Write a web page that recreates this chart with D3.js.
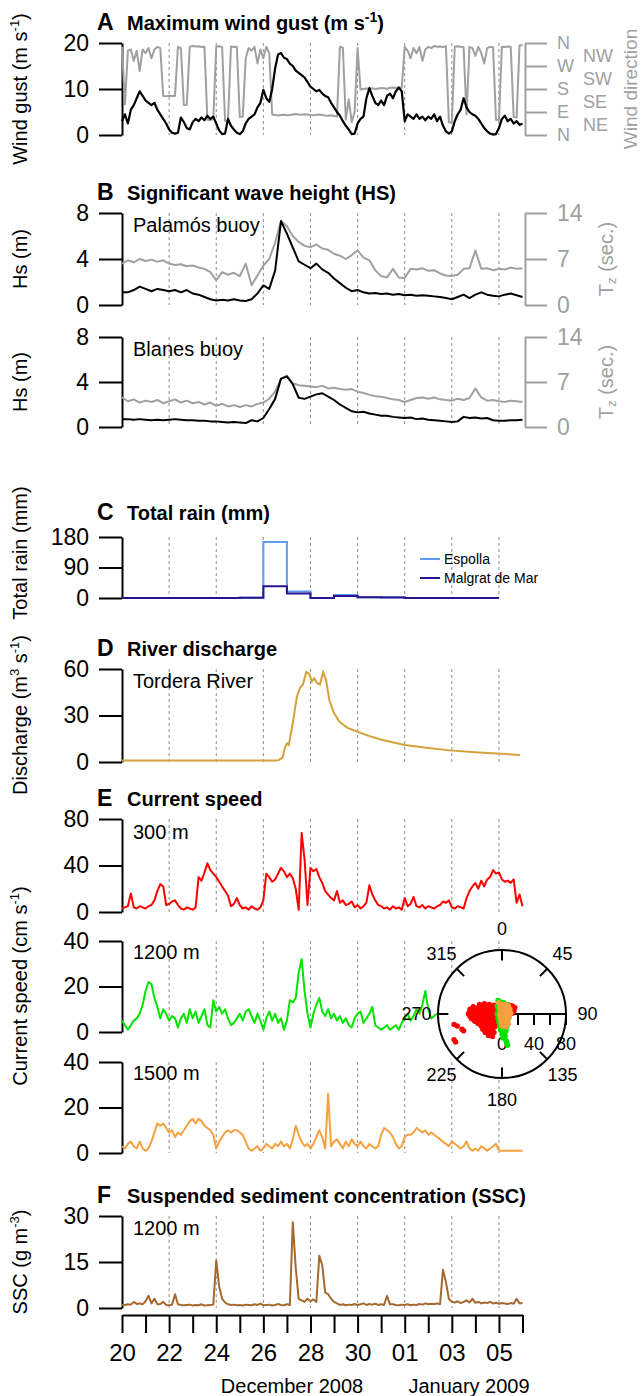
<!DOCTYPE html>
<html>
<head>
<meta charset="utf-8">
<title>Storm of December 2008 - wind, waves, rain, discharge, currents and SSC</title>
<script src="https://d3js.org/d3.v7.min.js"></script>
<style>
  body { margin: 0; background: white; }
  svg { display: block; }
</style>
</head>
<body>
<svg width="642" height="1396"></svg>
<script>
// ---- data ----
// 3-hourly series start 20 Dec 2008 00:00, 6-hourly series likewise
const gust = [3,4.5,2.5,5.5,6.5,8,9.5,8.5, 7.5,7,6.5,7,5.5,4.5,3.5,2.5, 1.2,0.5,0.3,0.5,3.8,2.8,1.5,1.2,
  2.8,3.5,3,3.8,3.2,4.2,3.5,4, 2.5,1,0.2,0.3,3.5,2,1.2,0.5, 0.2,0.8,2.5,3.5,4,4.5,6,7,
  9.8,8,7.2,10,14.5,17.5,17.8,16.8, 16.5,15.5,15,14,13.5,13,12.5,11.5, 10.5,10,9.5,9.8,9,8.5,8.2,7,
  6,5,4.2,3,2,1.2,0.2,0.3, 2.5,3.5,4,8,10.2,8.5,7,6.5, 7.5,6.5,8.5,9,8,9.5,10.3,9.5,
  3,4.5,4,3.5,4.5,3.5,4,3.2, 4,3.5,4.5,3,4,2,0.8,0.3, 0.8,3,4.5,5.5,8,6,5,4.5,
  4.2,3.5,2.5,1.5,0.8,0.3,0.1,0.2, 1.5,3.5,4.2,3,3.5,2.5,3,2.2, 2.5];
const windDir = [345,120,330,335,290,330,250,335,320,340,300,335,345,340, 153,152,154,153,153, 345,340, 117,118,
  345,348,346,347,344,345, 60,58,62, 345,347,344, 55,57, 346,344,345, 70,72,
  300,340,330,345,280,335,300,345,320,
  80,78,76,78,79,77,78,80,82,80,79,81,80,78,77,79,80,78,76,75,77,74,72,
  345,342, 60,140,50,90, 340,
  178,180,182,181,183,180,182,184,183,181,185,186,184,187,185,
  345,330,300,340,320,345,290,335,345,340,348,345,346,344,347,
  50,48, 345,347,345,344, 80, 345,340,310,345,320,280,340,345,343, 60,58, 345,344,346,345, 70,68, 350,352];

const hsPalamos = [1.1,1.1,1.3,1.6,1.4,1.2,1.4,1.3,1.2,1.3, 1.1,1.3,1.0,0.9,0.7,0.5,0.4,0.45,0.4,0.5,
  0.4,0.35,0.5,1.0,1.7,1.4,3.0,7.3,6.2,5.0, 3.8,3.5,3.2,3.6,3.1,2.8,2.3,1.9,1.5,1.2,
  1.3,1.1,1.0,1.05,0.95,1.0,0.9,0.95,0.85,0.9, 0.8,0.85,0.8,0.75,0.7,0.6,0.5,0.7,0.9,0.6,
  0.9,1.1,0.9,0.8,0.75,0.9,1.0,0.85,0.7];
const tzPalamos = [6.3,6.8,6.5,7.0,6.7,6.9,6.6,6.8,6.3,6.1, 6.2,5.9,6.0,5.7,5.5,5.0,3.8,5.0,4.6,4.9,
  4.4,6.3,3.0,4.5,6.0,7.0,9.5,12.8,12.0,10.5, 9.6,9.0,8.8,9.2,8.6,8.4,7.8,7.5,7.0,7.6,
  8.3,7.2,6.8,5.3,4.4,4.2,5.5,4.2,4.1,5.5, 5.4,5.6,5.2,5.3,4.8,4.5,4.4,4.6,5.5,5.6,
  8.3,5.5,5.6,5.3,5.5,5.4,5.7,5.5,5.6];
const hsBlanes = [0.7,0.7,0.65,0.7,0.65,0.6,0.65,0.6,0.65,0.7, 0.65,0.6,0.6,0.55,0.55,0.5,0.5,0.45,0.4,0.45,
  0.4,0.35,0.6,0.5,0.8,1.6,2.5,4.3,4.5,3.8, 2.6,2.5,2.7,2.9,3.0,2.7,2.4,2.0,1.7,1.4,
  1.3,1.35,1.2,1.1,1.0,1.0,0.9,0.85,0.8,0.85, 0.7,0.75,0.65,0.6,0.55,0.5,0.45,0.5,0.9,0.8,
  0.85,0.75,0.8,0.6,0.55,0.55,0.6,0.6,0.65];
const tzBlanes = [4.6,4.0,4.3,3.8,4.1,3.9,4.2,3.7,4.0,4.3, 3.8,4.1,3.7,3.9,3.5,3.8,3.3,3.6,3.2,3.4,
  3.1,3.4,3.2,3.6,3.8,4.4,5.5,7.5,8.0,6.8, 6.5,6.4,6.3,6.2,6.4,6.0,6.1,5.9,5.8,5.9,
  5.5,5.3,5.0,4.8,4.7,4.5,4.3,4.2,3.9,4.2, 4.5,4.6,4.4,4.6,4.3,4.2,4.1,4.4,4.2,4.5,
  6.0,4.6,4.1,4.2,4.0,3.9,4.1,4.0,3.9];

// daily rain totals, 20 Dec .. 5 Jan
const rainDay = [0,1,2,3,4,5,6,7,8,9,10,11,12,13,14,15,16];
const rainEspolla = [0,0,0,0,0,0.5,165,19,0,9,2,2,0,0,0,0,0];
const rainMalgrat = [0,0,0,0,0,1,35,13,0,6,2,1.5,0,0,0,0,0];

// Tordera discharge, days since 20 Dec
const dischargeDay = [0,3,6.5,6.65,6.82,6.91,7.0,7.08,7.25,7.42,7.56,7.68,7.82,7.94,8.06,8.16,8.28,8.4,8.54,
  8.66,8.8,8.98,9.23,9.57,9.92,10.44,11.1,12.0,13.0,13.9,15.0,15.9,16.9];
const dischargeVal = [1.0,0.9,0.9,1.2,3,9,12,11,25,42,48,50,58,57,52,54,51,50,58,
  53,40,32,26,22,20,17,14,11,9,7.5,6.3,5.5,4.5];

const cur300 = [3,4,5,16,4,3,5,4,3,5, 6,10,18,24,22,6,7,9,10,6, 3,2,4,3,2,4,30,27,34,42,
  36,33,30,26,22,18,14,5,7,12, 6,3,4,2,5,3,2,4,10,33, 30,26,28,33,38,35,30,33,29,20,
  2,68,45,6,38,35,37,30,25,18, 15,12,10,18,8,10,6,7,9,4, 6,3,5,8,23,15,10,6,5,3,
  4,2,5,3,4,2,12,5,7,13, 5,4,6,3,5,4,3,5,6,9, 8,10,4,3,5,4,3,12,18,22,
  25,20,27,22,28,30,36,33,34,28, 26,27,25,28,8,15,5];
const cur1200 = [5,3,1,3,5,6,8,12,18,22, 21,15,11,6,10,8,5,7,6,2, 6,8,4,10,6,9,4,7,10,3,
  2,14,9,11,8,10,6,3,4,6, 8,5,9,10,7,4,8,5,1,6, 9,5,8,4,6,1,5,14,13,15,
  26,32,18,8,2,8,12,15,9,7, 10,6,8,5,7,4,6,3,2,6, 8,9,4,6,8,11,3,2,1,2,
  3,1,2,3,1,4,6,8,5,7, 10,8,12,18,10,6,7,8,6,5, 7,9,6,8,10,7,5,6,8,4,
  6,9,7,5,8,6,4,7,5,6, 8,5,6,4,7,5,6];
const cur1500 = [3,2,4,5,3,2,5,2,1,2, 5,9,13,12,13,11,9,10,7,9, 8,10,12,14,15,13,15,14,12,11,
  10,8,2,5,7,9,10,9,10,10, 9,8,5,2,1,2,3,1,2,4, 3,2,4,3,5,3,4,2,6,12,
  8,5,3,4,2,4,7,10,7,2, 26,3,5,6,4,2,5,3,6,4, 3,5,3,2,4,3,2,3,8,11,
  10,9,7,4,2,3,7,8,8,9, 11,10,9,10,8,9,8,7,6,5, 4,3,5,4,3,2,3,5,2,1,
  2,1,3,2,1,2,3,4,1,1, 1,1,1,1,1,1,1];
const ssc1200 = [1,1,1.2,1.1,2,1.3,1.5,1.2,2.2,4, 1.5,3,1.2,1.3,2,1,0.9,1.1,4.5,1.2,
  1,0.9,1,1.1,0.8,1,0.9,1.2,0.8,0.9, 1,1.1,15.5,7,3,1.8,1.2,1,1.1,0.9,
  1,0.8,1.1,1,0.9,1.2,1,1.4,0.9,1, 1.1,0.8,1,1.3,1,0.9,1.2,1,28,13,
  3,2.5,2,3,2.2,2.8,2,17,14,5, 4.5,3,2,1.5,1,1.2,0.9,1.1,1,1.3,
  1,1.2,1.5,1,1.3,1.1,1.4,1,1.2,1, 4,1.2,1.2,1,0.9,1.1,1,1.2,0.9,1.1,
  1,1.3,1.1,1.5,1.2,1.4,1.3,1.5,1.2,12.5, 8.5,3,2,1.8,2.2,1.6,2,2.5,1.8,3,
  1.7,2,1.5,1.8,1.6,2,1.5,1.7,1.4,1.6, 1.5,1.3,1.6,1.4,3,1.5,1.6];

// current vectors for the polar inset, [east, north] in cm s-1
const vec300 = [[-28,12],[-22,13],[-16,12],[-10,11],[-36,9],[-30,8],[-24,9],[-18,8],[-12,9],[-6,8],
  [-40,6],[-34,5],[-28,6],[-22,5],[-16,6],[-10,5],[-4,6],[-41,2],[-35,3],[-29,2],[-23,3],[-17,2],[-11,3],[-5,2],
  [-42,0],[-36,-1],[-30,0],[-24,-1],[-18,0],[-12,-1],[-6,0],[-2,-1],[-40,-3],[-34,-4],[-28,-3],[-22,-4],[-16,-3],[-10,-4],[-4,-3],
  [-38,-6],[-32,-7],[-26,-6],[-20,-7],[-14,-6],[-8,-7],[-34,-9],[-28,-10],[-22,-9],[-16,-10],[-10,-9],
  [-30,-12],[-24,-13],[-18,-12],[-12,-13],[-7,-12],[-26,-15],[-20,-16],[-14,-15],[-9,-16],
  [-24,-19],[-18,-20],[-12,-19],[-21,-23],[-15,-24],[-10,-23],[-17,-27],[-12,-28],
  [5,12],[9,11],[13,10],[16,8],[6,7],[11,6],[15,4],[8,3],[13,1],[4,2],[3,9],
  [-60,-13],[-56,-15],[-50,-19],[-48,-21],[-60,-32],[-58,-35]];
const vec1200 = [[-5,17],[-2,15],[2,14],[6,12],[-6,10],[8,9],[-5,5],[9,4],[-6,0],[9,-1],[-5,-5],[8,-6],
  [-4,-10],[7,-11],[-3,-15],[6,-16],[-2,-20],[5,-21],[0,-25],[4,-27],[1,-30],[5,-33],[6,-36],[7,-39],[3,-24],[-1,-18]];
const vec1500 = [[-4,14],[0,12],[4,12],[8,10],[-3,8],[2,8],[6,7],[10,6],[-2,4],[3,3],[7,2],[11,1],
  [-3,-1],[1,-2],[5,-3],[9,-4],[-2,-6],[3,-7],[7,-8],[-1,-11],[4,-12],[8,-12],[0,-15],[5,-16]];

// tick labels
const ticksA = [0, 10, 20], ticksHs = [0, 4, 8], ticksTz = [0, 7, 14], ticksRain = [0, 90, 180];
const ticksQ = [0, 30, 60], ticks300 = [0, 40, 80], ticksDeep = [0, 20, 40], ticksSSC = [0, 15, 30];
const dirTicks = [0, 90, 180, 270, 360], dirNames = ["N", "E", "S", "W", "N"];
const dirMid = [45, 135, 225, 315], dirMidNames = ["NE", "SE", "SW", "NW"];
const gridDays = [2, 4, 6, 8, 10, 12, 14, 16];
const compass = [0, 45, 90, 135, 180, 225, 270, 315];

// ---- drawing ----
const FONT = "Liberation Sans, Arial, Helvetica, sans-serif";
const GRAY = "#a0a0a0";
const svg = d3.select("svg");
const T0 = new Date(2008, 11, 20), T1 = new Date(2009, 0, 6);
const dayDate = d => new Date(+T0 + d * 864e5);
const x = d3.scaleTime().domain([T0, T1]).range([122, 522.5]);

function styleAxis(g, color, size) {
  g.select(".domain").attr("stroke", color).attr("stroke-width", 2);
  g.selectAll(".tick line").attr("stroke", color).attr("stroke-width", 2);
  g.selectAll(".tick text").attr("fill", color).attr("font-size", size).attr("font-family", FONT);
}

function panel(top, bottom, domain, ticks) {
  const y = d3.scaleLinear().domain(domain).range([bottom, top]);
  svg.append("g").selectAll("line").data(gridDays).join("line")
    .attr("x1", d => x(dayDate(d))).attr("x2", d => x(dayDate(d)))
    .attr("y1", top).attr("y2", bottom)
    .attr("stroke", "#8c8c8c").attr("stroke-width", 1).attr("stroke-dasharray", "3,3");
  const g = svg.append("g").attr("transform", `translate(${x.range()[0]},0)`)
    .call(d3.axisLeft(y).tickValues(ticks).tickSize(23).tickSizeOuter(0).tickPadding(10));
  styleAxis(g, "#000", 23);
  return y;
}

function rightAxis(y, ticks, fmt) {
  const g = svg.append("g").attr("transform", "translate(525,0)")
    .call(d3.axisRight(y).tickValues(ticks).tickSize(22).tickSizeOuter(0).tickPadding(10).tickFormat(fmt));
  styleAxis(g, GRAY, 23);
  return g;
}

function series(y, values, hours, color, width) {
  svg.append("path")
    .attr("d", d3.line().x((v, i) => x(new Date(+T0 + i * hours * 36e5))).y(v => y(v))(values))
    .attr("fill", "none").attr("stroke", color).attr("stroke-width", width || 2)
    .attr("stroke-linejoin", "round");
}

function title(yBase, letter, text) {
  const t = svg.append("text").attr("x", 97).attr("y", yBase)
    .attr("font-family", FONT).attr("font-weight", "bold");
  t.append("tspan").attr("font-size", 23).text(letter);
  t.append("tspan").attr("x", 127).attr("font-size", 20).text(text[0]);
  if (text[1]) {
    t.append("tspan").attr("font-size", 14).attr("dy", -8).text(text[1]);
    t.append("tspan").attr("font-size", 20).attr("dy", 8).text(text[2]);
  }
}

// rotated label made of [text, superscript] parts
function yLabel(xPos, yMid, parts, color, size) {
  const t = svg.append("text").attr("transform", `translate(${xPos},${yMid}) rotate(-90)`)
    .attr("text-anchor", "middle").attr("font-family", FONT).attr("font-size", size || 20)
    .attr("fill", color || "#000");
  parts.forEach(p => {
    if (p.sup) t.append("tspan").attr("font-size", 13).attr("dy", -8).text(p.sup);
    else if (p.sub) t.append("tspan").attr("font-size", 13).attr("dy", 3).text(p.sub);
    else t.append("tspan").attr("dy", p.back || 0).text(p.t);
  });
}

function note(yBase, text) {
  svg.append("text").attr("x", 133).attr("y", yBase).attr("font-family", FONT)
    .attr("font-size", 20).text(text);
}

// A: wind
const yA = panel(43, 135, [0, 20], ticksA);
const yDir = d3.scaleLinear().domain([0, 360]).range([135, 43]);
series(yDir, windDir, 3, GRAY, 2);
series(yA, gust, 3, "#000", 2.2);
rightAxis(yDir, dirTicks, (d, i) => dirNames[i]).selectAll(".tick text").attr("font-size", 18);
svg.append("g").selectAll("text").data(dirMid).join("text")
  .attr("x", 583).attr("y", d => yDir(d) + 1.5).attr("dy", "0.35em")
  .attr("font-family", FONT).attr("font-size", 18).attr("fill", GRAY)
  .text((d, i) => dirMidNames[i]);
title(30, "A", ["Maximum wind gust (m s", "-1", ")"]);
yLabel(27, 89, [{t: "Wind gust (m s"}, {sup: "-1"}, {t: ")", back: 8}]);
yLabel(637, 89, [{t: "Wind direction"}], GRAY, 19);

// B: waves
const yB1 = panel(213, 305, [0, 8], ticksHs);
const yTz1 = d3.scaleLinear().domain([0, 14]).range([305, 213]);
series(yTz1, tzPalamos, 6, GRAY, 2);
series(yB1, hsPalamos, 6, "#000", 2);
rightAxis(yTz1, ticksTz, d3.format("d"));
title(200, "B", ["Significant wave height (HS)"]);
note(232, "Palamós buoy");
yLabel(27, 259, [{t: "Hs (m)"}]);
yLabel(613, 259, [{t: "T"}, {sub: "z"}, {t: " (sec.)", back: -3}], GRAY);

const yB2 = panel(337, 427, [0, 8], ticksHs);
const yTz2 = d3.scaleLinear().domain([0, 14]).range([427, 337]);
series(yTz2, tzBlanes, 6, GRAY, 2);
series(yB2, hsBlanes, 6, "#000", 2);
rightAxis(yTz2, ticksTz, d3.format("d"));
note(356, "Blanes buoy");
yLabel(27, 382, [{t: "Hs (m)"}]);
yLabel(613, 382, [{t: "T"}, {sub: "z"}, {t: " (sec.)", back: -3}], GRAY);

// C: rain
const yC = panel(537, 598, [0, 180], ticksRain);
const rainLine = vals => d3.line().curve(d3.curveStepAfter)
  .x((v, i) => x(dayDate(rainDay[i]))).y(v => yC(v))(vals);
svg.append("path").attr("d", rainLine(rainEspolla)).attr("fill", "none")
  .attr("stroke", "#5d9cef").attr("stroke-width", 2);
svg.append("path").attr("d", rainLine(rainMalgrat)).attr("fill", "none")
  .attr("stroke", "#2a1590").attr("stroke-width", 2);
title(520, "C", ["Total rain (mm)"]);
yLabel(27, 553, [{t: "Total rain (mm)"}]);
const legend = [["Espolla", "#5d9cef", 559], ["Malgrat de Mar", "#2a1590", 578]];
legend.forEach(([name, color, yy]) => {
  svg.append("line").attr("x1", 420).attr("x2", 440).attr("y1", yy).attr("y2", yy)
    .attr("stroke", color).attr("stroke-width", 2);
  svg.append("text").attr("x", 444).attr("y", yy + 5).attr("font-family", FONT)
    .attr("font-size", 14).text(name);
});

// D: discharge
const yD = panel(669, 762, [0, 60], ticksQ);
svg.append("path")
  .attr("d", d3.line().x((v, i) => x(dayDate(dischargeDay[i]))).y(v => yD(v))(dischargeVal))
  .attr("fill", "none").attr("stroke", "#d4a23b").attr("stroke-width", 2);
title(656, "D", ["River discharge"]);
note(688, "Tordera River");
yLabel(27, 715, [{t: "Discharge (m"}, {sup: "3"}, {t: " s", back: 8}, {sup: "-1"}, {t: ")", back: 8}]);

// E: currents
const yE1 = panel(819, 912, [0, 80], ticks300);
series(yE1, cur300, 3, "#ff0000", 2);
title(806, "E", ["Current speed"]);
note(839, "300 m");
const yE2 = panel(941, 1032, [0, 40], ticksDeep);
series(yE2, cur1200, 3, "#00e400", 2);
note(959, "1200 m");
const yE3 = panel(1062, 1153, [0, 40], ticksDeep);
series(yE3, cur1500, 3, "#f7a03f", 2);
note(1080, "1500 m");
yLabel(27, 986, [{t: "Current speed (cm s"}, {sup: "-1"}, {t: ")", back: 8}]);

// F: SSC
const yF = panel(1216, 1308, [0, 30], ticksSSC);
series(yF, ssc1200, 3, "#a5692f", 2);
title(1203, "F", ["Suspended sediment concentration (SSC)"]);
note(1235, "1200 m");
yLabel(27, 1262, [{t: "SSC (g m"}, {sup: "-3"}, {t: ")", back: 8}]);

// time axis
const allDays = d3.timeDay.range(T0, d3.timeDay.offset(T1, 1));
const gx = svg.append("g").attr("transform", "translate(0,1315)")
  .call(d3.axisBottom(x).tickValues(allDays).tickSize(18).tickSizeOuter(0).tickPadding(11)
    .tickFormat((d, i) => i % 2 === 0 && i < 17 ? d3.timeFormat("%d")(d) : ""));
styleAxis(gx, "#000", 24);
const months = [["December 2008", 292], ["January 2009", 469]];
svg.append("g").selectAll("text").data(months).join("text")
  .attr("x", d => d[1]).attr("y", 1393).attr("text-anchor", "middle")
  .attr("font-family", FONT).attr("font-size", 20).text(d => d[0]);

// polar inset of current vectors
const PC = [502, 1014], PR = 64;
const pu = d3.scaleLinear().domain([-80, 80]).range([PC[0] - PR, PC[0] + PR]);
const pv = d3.scaleLinear().domain([-80, 80]).range([PC[1] + PR, PC[1] - PR]);
const rad = a => a * Math.PI / 180;
const polar = svg.append("g");
polar.append("circle").attr("cx", pu(0)).attr("cy", pv(0)).attr("r", pu(80) - pu(0))
  .attr("fill", "white").attr("stroke", "#000").attr("stroke-width", 2);
polar.selectAll(".ct").data(compass).join("line")
  .attr("x1", a => pu(80 * Math.sin(rad(a)))).attr("y1", a => pv(80 * Math.cos(rad(a))))
  .attr("x2", a => pu(67 * Math.sin(rad(a)))).attr("y2", a => pv(67 * Math.cos(rad(a))))
  .attr("stroke", "#000").attr("stroke-width", 2);
polar.selectAll(".cl").data(compass).join("text")
  .attr("x", a => pu(107 * Math.sin(rad(a)))).attr("y", a => pv(107 * Math.cos(rad(a))))
  .attr("text-anchor", "middle").attr("dy", "0.36em")
  .attr("font-family", FONT).attr("font-size", 18).text(a => a);
polar.append("line").attr("x1", pu(0)).attr("x2", pu(80)).attr("y1", pv(0)).attr("y2", pv(0))
  .attr("stroke", "#000").attr("stroke-width", 2);
polar.selectAll(".rt").data([20, 40, 60, 80]).join("line")
  .attr("x1", d => pu(d)).attr("x2", d => pu(d)).attr("y1", pv(0)).attr("y2", pv(0) + 11)
  .attr("stroke", "#000").attr("stroke-width", 2);
polar.selectAll(".rl").data([0, 40, 80]).join("text")
  .attr("x", d => pu(d)).attr("y", pv(0) + 36).attr("text-anchor", "middle")
  .attr("font-family", FONT).attr("font-size", 18).text(d => d);
[[vec300, "#ff0000"], [vec1200, "#00e400"], [vec1500, "#f7a03f"]].forEach(([pts, color]) => {
  polar.append("g").selectAll("circle").data(pts).join("circle")
    .attr("cx", d => pu(d[0])).attr("cy", d => pv(d[1])).attr("r", 2.7).attr("fill", color);
});
</script>
</body>
</html>
